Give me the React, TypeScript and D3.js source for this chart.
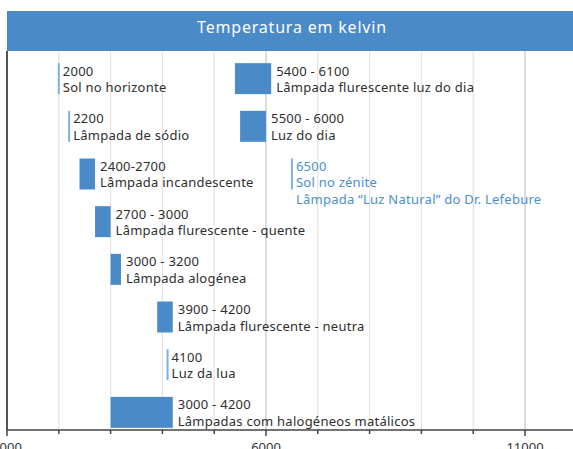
import React, { useEffect, useRef } from "react";
import * as d3 from "d3";

const rangeLabels = [
  "2000",
  "2200",
  "2400-2700",
  "2700 - 3000",
  "3000 - 3200",
  "3900 - 4200",
  "4100",
  "3000 - 4200",
  "5400 - 6100",
  "5500 - 6000",
  "6500",
];
const names = [
  ["Sol no horizonte"],
  ["Lâmpada de sódio"],
  ["Lâmpada incandescente"],
  ["Lâmpada flurescente - quente"],
  ["Lâmpada alogénea"],
  ["Lâmpada flurescente - neutra"],
  ["Luz da lua"],
  ["Lâmpadas com halogéneos matálicos"],
  ["Lâmpada flurescente luz do dia"],
  ["Luz do dia"],
  ["Sol no zénite", "Lâmpada \u201cLuz Natural\u201d do Dr. Lefebure"],
];
const lows = [2000, 2200, 2400, 2700, 3000, 3900, 4100, 3000, 5400, 5500, 6500];
const highs = [2000, 2200, 2700, 3000, 3200, 4200, 4100, 4200, 6100, 6000, 6500];
const rows = [0, 1, 2, 3, 4, 5, 6, 7, 0, 1, 2];
const rowIds = [0, 1, 2, 3, 4, 5, 6, 7];
const highlighted = [false, false, false, false, false, false, false, false, false, false, true];
const minorTicks = [1000, 2000, 3000, 4000, 5000, 6000, 7000, 8000, 9000, 10000, 11000];
const majorTicks = [1000, 6000, 11000];
const title = "Temperatura em kelvin";

const W = 573;
const H = 449;
const FONT = "'Noto Sans', 'DejaVu Sans', sans-serif";

const App: React.FC = () => {
  const svgRef = useRef(null);

  useEffect(() => {
    const svg = d3.select(svgRef.current).attr("width", W).attr("height", H);
    svg.selectAll("*").remove();

    const left = 7;
    const top = 51;
    const bottom = 430;

    const xScale = d3.scaleLinear().domain([1000, 11000]).range([left, 525]);
    const yScale = d3
      .scaleBand<number>()
      .domain(rowIds)
      .range([56, 435])
      .paddingInner(0.35)
      .paddingOuter(0.15);

    // header
    svg
      .append("rect")
      .attr("x", left)
      .attr("y", 11)
      .attr("width", W - left)
      .attr("height", top - 11)
      .attr("fill", "#4a8ac9");
    svg
      .append("text")
      .attr("x", 292)
      .attr("y", 33)
      .attr("text-anchor", "middle")
      .attr("fill", "#ffffff")
      .style("font-family", FONT)
      .style("font-size", "16px")
      .style("letter-spacing", "0.8px")
      .text(title);

    // grid
    svg
      .append("g")
      .selectAll("line")
      .data(minorTicks.slice(1))
      .enter()
      .append("line")
      .attr("x1", (d) => xScale(d))
      .attr("x2", (d) => xScale(d))
      .attr("y1", top)
      .attr("y2", bottom)
      .attr("stroke", (d) => (majorTicks.includes(d) ? "#d4d4d4" : "#e4e4e4"))
      .attr("stroke-width", (d) => (majorTicks.includes(d) ? 1.6 : 1.2));

    // axes
    svg
      .append("line")
      .attr("x1", left)
      .attr("x2", left)
      .attr("y1", top)
      .attr("y2", bottom)
      .attr("stroke", "#555")
      .attr("stroke-width", 2);
    svg
      .append("line")
      .attr("x1", left)
      .attr("x2", W)
      .attr("y1", bottom)
      .attr("y2", bottom)
      .attr("stroke", "#444")
      .attr("stroke-width", 1.5);
    svg
      .append("g")
      .selectAll("line")
      .data(minorTicks)
      .enter()
      .append("line")
      .attr("x1", (d) => xScale(d))
      .attr("x2", (d) => xScale(d))
      .attr("y1", bottom)
      .attr("y2", (d) => bottom + (majorTicks.includes(d) ? 6 : 4))
      .attr("stroke", "#444")
      .attr("stroke-width", 1.5);
    svg
      .append("g")
      .selectAll("text")
      .data(majorTicks)
      .enter()
      .append("text")
      .attr("x", (d) => xScale(d))
      .attr("y", 452)
      .attr("text-anchor", "middle")
      .attr("fill", "#333")
      .style("font-family", FONT)
      .style("font-size", "13px")
      .text((d) => String(d));

    // marks
    const items = lows.map((lo, i) => ({
      lo,
      hi: highs[i],
      row: rows[i],
      label: rangeLabels[i],
      lines: names[i],
      hl: highlighted[i],
    }));
    const bw = yScale.bandwidth();

    const g = svg.append("g");
    items.forEach((d) => {
      const y0 = yScale(d.row) as number;
      const x0 = xScale(d.lo);
      const x1 = xScale(d.hi);
      if (d.hi > d.lo) {
        g.append("rect")
          .attr("x", x0)
          .attr("y", y0)
          .attr("width", x1 - x0)
          .attr("height", bw)
          .attr("fill", "#4a8ac9");
      } else {
        g.append("rect")
          .attr("x", x0 - 1)
          .attr("y", y0)
          .attr("width", 2)
          .attr("height", bw)
          .attr("fill", "#7fb0e0");
      }
      const tx = x1 + (d.hi > d.lo ? 5 : 4);
      const color = d.hl ? "#4a90d2" : "#2e2e2e";
      const lines = [d.label, ...d.lines];
      lines.forEach((t, j) => {
        g.append("text")
          .attr("x", tx)
          .attr("y", y0 + 12.5 + j * 16.5)
          .attr("fill", color)
          .style("font-family", FONT)
          .style("font-size", "13px")
          .style("letter-spacing", "0.25px")
          .text(t);
      });
    });
  }, []);

  return (
    <svg
      ref={svgRef}
      style={{ position: "absolute", left: 0, top: 0, background: "#fff" }}
    />
  );
};

export default App;
